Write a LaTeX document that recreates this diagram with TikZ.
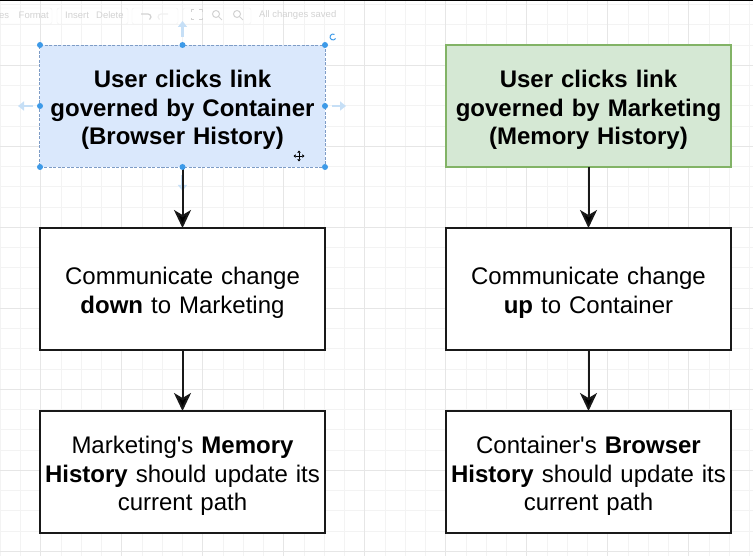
\documentclass[tikz,border=0pt]{standalone}
\usepackage{fontspec}
\setmainfont{Liberation Sans}
\usepackage{tikz}
\usetikzlibrary{matrix,arrows.meta}

\definecolor{gridminor}{HTML}{F3F3F3}
\definecolor{gridmajor}{HTML}{E6E6E6}
\definecolor{bluefill}{HTML}{DAE8FC}
\definecolor{blueline}{HTML}{7E9CC6}
\definecolor{greenfill}{HTML}{D5E8D4}
\definecolor{greenline}{HTML}{82B366}
\definecolor{handle}{HTML}{3D9AE8}
\definecolor{handlearrow}{HTML}{C6DFF6}
\definecolor{toolbar}{HTML}{D2D2D2}

\tikzset{
  flowbox/.style={draw=black!90, line width=2pt, fill=white, minimum width=285pt, minimum height=122pt,
    text width=275pt, inner sep=5pt, outer sep=0pt, align=center, font=\fontsize{24}{28.2}\selectfont,
    execute at begin node={\rule{0pt}{25pt}}},
  userblue/.style={fill=bluefill, draw=blueline, line width=1pt, dash pattern=on 3pt off 1.5pt,
    font=\fontsize{24}{28.6}\selectfont\bfseries},
  usergreen/.style={fill=greenfill, draw=greenline, font=\fontsize{24}{28.6}\selectfont\bfseries},
  connector/.style={-{Stealth[length=18pt,width=17pt,inset=5pt]}, line width=2pt, draw=black!90},
  handlearr/.style={-{Triangle[length=6pt,width=9pt]}, line width=2.5pt, draw=handlearrow},
  toolbox/.style={draw=black!6, rounded corners=2pt},
  tooltext/.style={text=toolbar, font=\fontsize{9.5}{10}\selectfont, inner sep=0pt}
}

\begin{document}
\begin{tikzpicture}[x=1pt, y=-1pt]
  \useasboundingbox (0,0) rectangle (753,556);
  \foreach \k in {0,...,37} \draw[gridminor] ({20.25*\k},0) -- ({20.25*\k},556);
  \foreach \k in {0,...,27} \draw[gridminor] (0,{4.35+20.25*\k}) -- (753,{4.35+20.25*\k});
  \foreach \k in {0,...,8} \draw[gridmajor] ({40.5+81*\k},0) -- ({40.5+81*\k},556);
  \foreach \k in {0,...,6} \draw[gridmajor] (0,{65.1+81*\k}) -- (753,{65.1+81*\k});
  \fill[black] (0,0) rectangle (753,1.5);

  \draw[toolbox] (-5,8) rectangle (52,24);
  \draw[toolbox] (57,8) rectangle (128,24);
  \draw[toolbox] (132,8) rectangle (178,24);
  \draw[toolbox] (183,8) rectangle (251,24);
  \node[tooltext, anchor=west] (tbformat) at (-1,15.5) {es\quad Format};
  \node[tooltext, anchor=west] (tbinsert) at (65,15.5) {Insert};
  \node[tooltext, anchor=west] (tbdelete) at (96,15.5) {Delete};
  \node[tooltext, anchor=west] (tbsaved) at (259,15.5) {All changes saved};
  \draw[toolbar, line width=1.2pt] (141,14) -- (148,14) arc (90:-60:3pt);
  \draw[black!6, line width=1.2pt] (168,14) -- (161,14) arc (90:240:3pt);
  \draw[toolbar, line width=1pt] (191,12) |- (194,10) (199,10) -| (202,12) (202,18) |- (199,20) (194,20) -| (191,18);
  \draw[toolbar, line width=1pt] (216,14) circle (3.5pt) (218.5,16.5) -- (222,20);
  \draw[toolbar, line width=1pt] (237,14) circle (3.5pt) (239.5,16.5) -- (243,20);

  \matrix (m) [matrix of nodes, nodes={flowbox}, row sep=59pt, column sep=119pt,
    anchor=north west, inner sep=0pt, outer sep=0pt] at (39,44)
  {
|[userblue]| {User clicks link\\governed by Container\\(Browser History)} &
|[usergreen]| {User clicks link\\governed by Marketing\\(Memory History)} \\
{Communicate change\\\textbf{down} to Marketing} &
{Communicate change\\\textbf{up} to Container} \\
{Marketing\textquotesingle s \textbf{Memory}\\\textbf{History} should update its\\current path} &
{Container\textquotesingle s \textbf{Browser}\\\textbf{History} should update its\\current path} \\
};

  \draw[handlearr] ([yshift=8pt]m-1-1.north) -- ([yshift=24pt]m-1-1.north);
  \draw[handlearr] ([xshift=-7pt]m-1-1.west) -- ([xshift=-22pt]m-1-1.west);
  \draw[handlearr] ([xshift=7pt]m-1-1.east) -- ([xshift=21pt]m-1-1.east);
  \draw[handlearr] ([yshift=-8pt]m-1-1.south) -- ([yshift=-24pt]m-1-1.south);

  \path[connector]
  (m-1-1) edge (m-2-1)
  (m-2-1) edge (m-3-1)
  (m-1-2) edge (m-2-2)
  (m-2-2) edge (m-3-2)
  ;

  \foreach \a in {north west, north, north east, east, south east, south, south west, west}
    \fill[handle] (m-1-1.\a) circle (3pt);
  \draw[handle, line width=1pt] ([xshift=8pt,yshift=8pt]m-1-1.north east) ++(60:3pt) arc (60:330:3pt);
  \draw[line width=0.9pt, {Triangle[length=2.2pt,width=3.5pt]}-{Triangle[length=2.2pt,width=3.5pt]}] (293.5,156) -- (304.5,156);
  \draw[line width=0.9pt, {Triangle[length=2.2pt,width=3.5pt]}-{Triangle[length=2.2pt,width=3.5pt]}] (299,150.5) -- (299,161.5);
\end{tikzpicture}
\end{document}
